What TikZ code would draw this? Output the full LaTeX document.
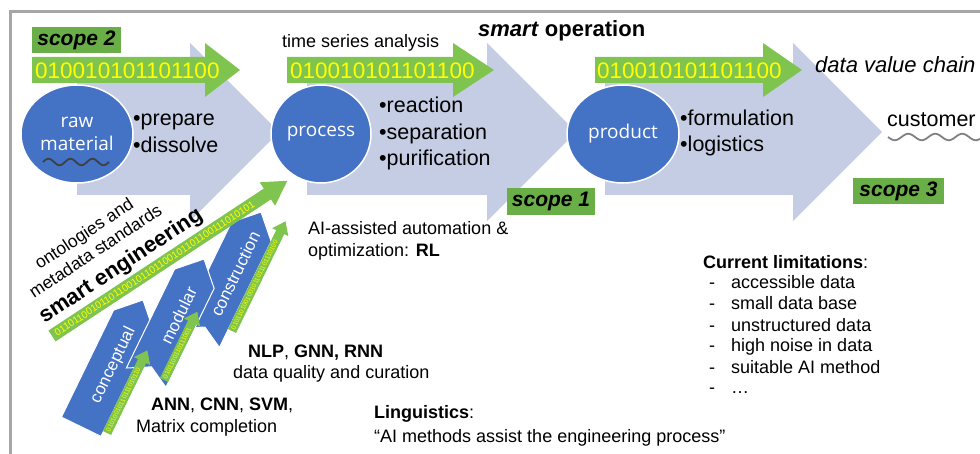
\documentclass[tikz,border=0pt]{standalone}
\usepackage{fontspec}
\setmainfont{Liberation Sans}
\newfontfamily\circlefont{Open Sans}
\usetikzlibrary{shapes.geometric}

\definecolor{chainblue}{RGB}{197,205,228}
\definecolor{stageblue}{RGB}{68,114,196}
\definecolor{bitgreen}{RGB}{128,196,80}
\definecolor{scopegreen}{RGB}{106,174,72}
\definecolor{bityellow}{RGB}{255,255,0}
\definecolor{framegray}{RGB}{166,166,166}
\definecolor{wavedark}{RGB}{64,64,64}
\definecolor{wavelight}{RGB}{128,128,128}

\newcommand{\fsz}[2]{\fontsize{#1}{#2}\selectfont}

\tikzset{
  txt/.style={inner sep=0pt, anchor=base west, font=\fsz{18}{21}},
  bulletitem/.style={txt, font=\fsz{21.5}{24}},
  bits/.style={inner sep=0pt, anchor=west, text=bityellow},
  stage/.style={ellipse, fill=stageblue, draw=white, line width=1.5pt, text=white,
    inner sep=0pt, minimum height=98pt, font=\circlefont\fsz{19}{23}, align=center},
  scopebox/.style={fill=scopegreen, inner sep=0pt, minimum height=26pt,
    font=\fsz{21}{24}\bfseries\itshape},
  chev/.style={fill=stageblue, draw=white, line width=1pt},
  stagelabel/.style={text=white, inner sep=0pt, font=\fsz{17}{20}, rotate=64},
  minibits/.style={bits, font=\fsz{6.5}{6.5}, rotate=64},
}

\begin{document}
\begin{tikzpicture}[x=1pt, y=-1pt]
\useasboundingbox (0,0) rectangle (980,454);

% frame
\draw[framegray, line width=3pt] (10,454) -- (10,11.5) -- (980,11.5);

% value chain arrows
\fill[chainblue] (77,68) -- (190,68) -- (190,43) -- (279,132) -- (190,221) -- (190,195) -- (77,195) -- cycle;
\fill[chainblue] (307,68) -- (487,68) -- (487,43) -- (576,132) -- (487,221) -- (487,195) -- (307,195) -- cycle;
\fill[chainblue] (605,68) -- (793,68) -- (793,43) -- (882,132) -- (793,221) -- (793,195) -- (605,195) -- cycle;

% data streams
\fill[bitgreen] (32,57) -- (205,57) -- (205,43) -- (240,70) -- (205,97) -- (205,83) -- (32,83) -- cycle;
\fill[bitgreen] (287,57) -- (453,57) -- (453,43) -- (494,70) -- (453,97) -- (453,83) -- (287,83) -- cycle;
\fill[bitgreen] (595,57) -- (763,57) -- (763,43) -- (802,70) -- (763,97) -- (763,83) -- (595,83) -- cycle;
\node[bits, anchor=base west, font=\fsz{22.5}{22.5}] (bitsA) at (35,79) {010010101101100};
\node[bits, anchor=base west, font=\fsz{22.5}{22.5}] (bitsB) at (290,79) {010010101101100};
\node[bits, anchor=base west, font=\fsz{22.5}{22.5}] (bitsC) at (597,79) {010010101101100};

% stages
\node[stage, minimum width=112pt] (raw) at (77,134) {raw\\material};
\node[stage, minimum width=100pt] (proc) at (321,134) {process};
\node[stage, minimum width=112pt] (prod) at (623,134) {product};

\draw[wavedark, line width=1.8pt] plot[domain=43:109, samples=90] (\x, {162 - 3.2*sin((\x-43)/22*360)});
\draw[wavelight, line width=1.8pt] plot[domain=888:980, samples=120] (\x, {137 + 3.2*sin((\x-888)/27*360)});

% scope labels
\node[scopebox, minimum width=89pt] (scopeB) at (76.5,40) {scope 2};
\node[scopebox, minimum width=88pt, minimum height=27pt] (scopeA) at (551,201.5) {scope 1};
\node[scopebox, minimum width=91pt] (scopeC) at (898.5,191) {scope 3};

% headings
\node[txt] (tsa) at (282,48) {time series analysis};
\node[txt, font=\fsz{22}{24}\bfseries] (smartop) at (478,37) {\textit{smart} operation};
\node[txt, font=\fsz{22}{24}\itshape] (dvc) at (815,73) {data value chain};
\node[txt, font=\fsz{21.5}{24}] (cust) at (887,127) {customer};

% stage steps
\node[bulletitem] (prep) at (133,126) {•prepare};
\node[bulletitem] (diss) at (133,153) {•dissolve};
\node[bulletitem] (reac) at (379,113) {•reaction};
\node[bulletitem] (sepa) at (379,140) {•separation};
\node[bulletitem] (puri) at (379,166) {•purification};
\node[bulletitem] (form) at (680,126) {•formulation};
\node[bulletitem] (logi) at (680,152) {•logistics};

% methods
\node[txt] (aiauto) at (308,235) {AI-assisted automation \&};
\node[txt] (aiopt) at (308,257) {optimization: \textbf{RL}};
\node[txt] (nlp) at (248,357) {\textbf{NLP}, \textbf{GNN, RNN}};
\node[txt] (dq) at (233,378) {data quality and curation};
\node[txt] (ann) at (151,410) {\textbf{ANN}, \textbf{CNN}, \textbf{SVM},};
\node[txt] (mc) at (136,432) {Matrix completion};
\node[txt] (ling) at (374,418) {\textbf{Linguistics}:};
\node[txt] (quote) at (374,442) {“AI methods assist the engineering process”};

% limitations
\node[txt] (limhead) at (703,269) {\textbf{Current limitations}:};
\foreach \yy/\item [count=\i] in {289/accessible data, 310/small data base, 331/unstructured data, 352/high noise in data, 373/suitable AI method, 393/…}{
  \node[txt] (dash\i) at (709,\yy) {-};
  \node[txt] (lim\i) at (731,\yy) {\item};
}

% engineering stages
\begin{scope}[shift={(143,300)}, rotate=64]
  \draw[chev] (0,0) -- (-22,22) -- (-141,22) -- (-141,-22) -- (-22,-22) -- cycle;
  \node[stagelabel] (concept) at (-72,2) {conceptual};
\end{scope}
\begin{scope}[shift={(261,212)}, rotate=64]
  \draw[chev] (0,0) -- (-22,22) -- (-140,22) -- (-128,0) -- (-140,-22) -- (-22,-22) -- cycle;
  \node[stagelabel] (constr) at (-67,4) {construction};
\end{scope}
\begin{scope}[shift={(204,259)}, rotate=64]
  \draw[chev] (0,0) -- (-22,22) -- (-132,22) -- (-120,0) -- (-132,-22) -- (-22,-22) -- cycle;
  \node[stagelabel] (modul) at (-62,2) {modular};
\end{scope}

% stage data streams
\begin{scope}[shift={(107,433)}, rotate=64]
  \fill[bitgreen] (0,-4.5) -- (80,-4.5) -- (80,-9) -- (92,0) -- (80,9) -- (80,4.5) -- (0,4.5) -- cycle;
  \node[minibits] (cbits) at (2,0) {01010010110111010110};
\end{scope}
\begin{scope}[shift={(164,380)}, rotate=64]
  \fill[bitgreen] (0,-4.5) -- (64,-4.5) -- (64,-9) -- (76,0) -- (64,9) -- (64,4.5) -- (0,4.5) -- cycle;
  \node[minibits] (mbits) at (2,0) {0101100110111001};
\end{scope}
\begin{scope}[shift={(232,331)}, rotate=64]
  \fill[bitgreen] (0,-4.5) -- (110,-4.5) -- (110,-9) -- (122,0) -- (110,9) -- (110,4.5) -- (0,4.5) -- cycle;
  \node[minibits] (kbits) at (2,0) {0101101001001011011101110100};
\end{scope}

% smart engineering stream
\begin{scope}[shift={(52,336)}, rotate=33.4]
  \fill[bitgreen] (0,-6.5) -- (258,-6.5) -- (258,-14) -- (282,0) -- (258,14) -- (258,6.5) -- (0,6.5) -- cycle;
  \node[bits, font=\fsz{10}{10}, rotate=33.4] (engbits) at (4,0) {01101100101101100101101100101101100111010101};
  \node[txt, anchor=base, font=\fsz{22}{24}\bfseries, rotate=33.4] (smarteng) at (96,-14.5) {smart engineering};
  \node[txt, anchor=base, font=\fsz{17.5}{20}, rotate=33.4] (onto) at (83,-62) {ontologies and};
  \node[txt, anchor=base, font=\fsz{17.5}{20}, rotate=33.4] (meta) at (83,-41) {metadata standards};
\end{scope}

\end{tikzpicture}
\end{document}
